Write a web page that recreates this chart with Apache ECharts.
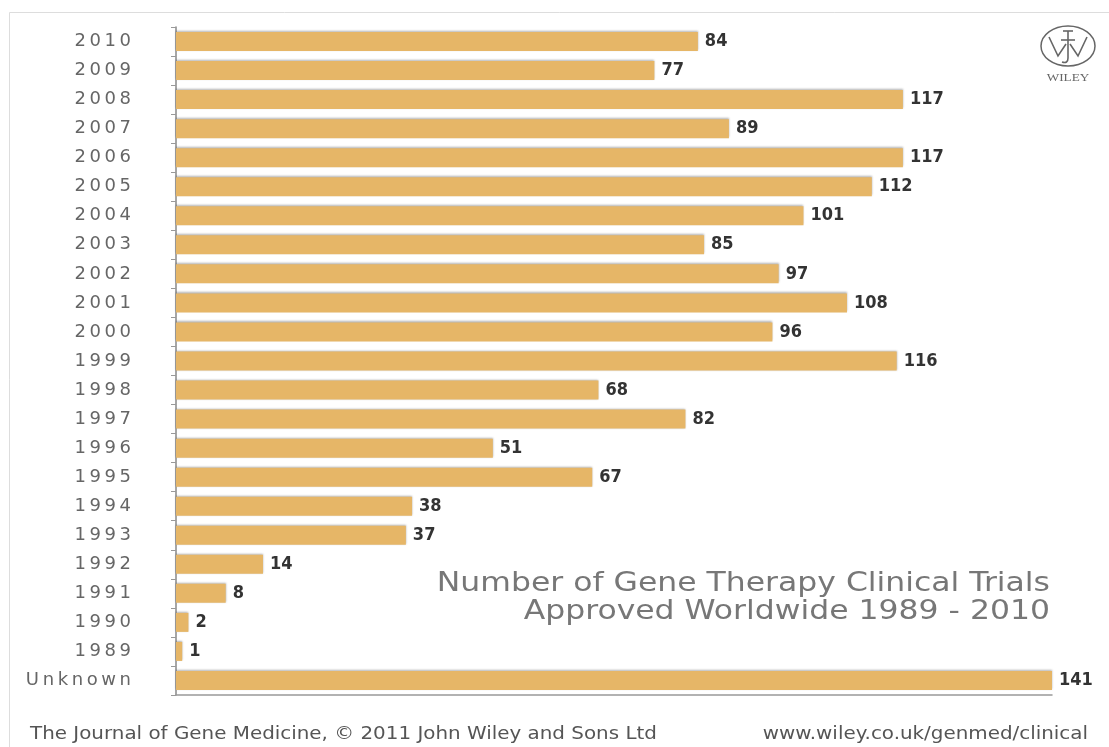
<!DOCTYPE html>
<html><head><meta charset="utf-8">
<script src="https://cdn.jsdelivr.net/npm/echarts@6/dist/echarts.min.js"></script>
<style>html,body{margin:0;padding:0;background:#fff}#c{width:1109px;height:747px}</style>
</head><body><div id="c"></div>
<script>
const categories = ['2010','2009','2008','2007','2006','2005','2004','2003','2002','2001','2000','1999','1998','1997','1996','1995','1994','1993','1992','1991','1990','1989','Unknown'];
const trials = [84,77,117,89,117,112,101,85,97,108,96,116,68,82,51,67,38,37,14,8,2,1,141];
const titleLines = ['Number of Gene Therapy Clinical Trials','Approved Worldwide 1989 - 2010'];
const footerLeft = 'The Journal of Gene Medicine, \u00A9 2011 John Wiley and Sons Ltd';
const footerRight = 'www.wiley.co.uk/genmed/clinical';

const spaced = s => s.split('').join('\u2009');
const chart = echarts.init(document.getElementById('c'), null, {renderer:'canvas'});
const geo = '"DejaVu Sans",sans-serif';
const logoStroke = {fill:'none', stroke:'#666', lineWidth:1.6};
chart.setOption({
  animation:false,
  backgroundColor:'#fff',
  grid:{left:176, right:57, top:27, bottom:52},
  xAxis:{type:'value', min:0, max:141, show:true,
    axisLine:{show:true, lineStyle:{color:'#999', width:1.5}},
    axisTick:{show:false}, axisLabel:{show:false}, splitLine:{show:false}},
  yAxis:{type:'category', data:categories, inverse:true,
    axisLine:{show:true, lineStyle:{color:'#888', width:1.5}},
    axisTick:{show:true, length:5, lineStyle:{color:'#999'}},
    axisLabel:{margin:45, color:'#666', fontSize:18, fontFamily:geo, formatter:v=>spaced(v)}},
  series:[{type:'bar', data:trials, barWidth:19,
    itemStyle:{color:'#E6B667', shadowColor:'rgba(0,0,0,0.3)', shadowBlur:2, shadowOffsetY:-1},
    label:{show:true, position:'right', distance:7, color:'#333', fontSize:18, fontWeight:'bold',
      fontFamily:'"DejaVu Sans Condensed","DejaVu Sans",sans-serif'}}],
  graphic:[
    {type:'line', shape:{x1:9.5,y1:12.5,x2:1109,y2:12.5}, style:{stroke:'#ddd', lineWidth:1}},
    {type:'line', shape:{x1:9.5,y1:12.5,x2:9.5,y2:747}, style:{stroke:'#ddd', lineWidth:1}},
    {type:'text', x:1050, y:571, scaleX:1.21, style:{text:titleLines[0], fill:'#777', fontSize:26, fontFamily:geo, textAlign:'right', textVerticalAlign:'top'}},
    {type:'text', x:1050, y:599, scaleX:1.21, style:{text:titleLines[1], fill:'#777', fontSize:26, fontFamily:geo, textAlign:'right', textVerticalAlign:'top'}},
    {type:'text', x:30, y:726, scaleX:1.17, style:{text:footerLeft, fill:'#555', fontSize:17, fontFamily:geo, textAlign:'left', textVerticalAlign:'top'}},
    {type:'text', x:1088, y:726, scaleX:1.17, style:{text:footerRight, fill:'#555', fontSize:17, fontFamily:geo, textAlign:'right', textVerticalAlign:'top'}},
    {type:'ellipse', shape:{cx:1068, cy:46, rx:27, ry:20}, style:{fill:'none', stroke:'#666', lineWidth:1.5}},
    {type:'polyline', shape:{points:[[1049,37],[1058,56],[1066,44]]}, style:logoStroke},
    {type:'polyline', shape:{points:[[1070,44],[1078,56],[1087,37]]}, style:logoStroke},
    {type:'line', shape:{x1:1068,y1:31,x2:1068,y2:58}, style:logoStroke},
    {type:'bezierCurve', shape:{x1:1068,y1:58,cpx1:1068,cpy1:64,x2:1062,y2:62}, style:logoStroke},
    {type:'line', shape:{x1:1061,y1:40,x2:1075,y2:40}, style:logoStroke},
    {type:'line', shape:{x1:1063,y1:31,x2:1073,y2:31}, style:logoStroke},
    {type:'text', x:1068, y:78, scaleX:1.2, style:{text:'WILEY', fill:'#666', fontSize:11, fontFamily:'"Liberation Serif",serif', textAlign:'center', textVerticalAlign:'middle'}}
  ]
});
</script></body></html>
